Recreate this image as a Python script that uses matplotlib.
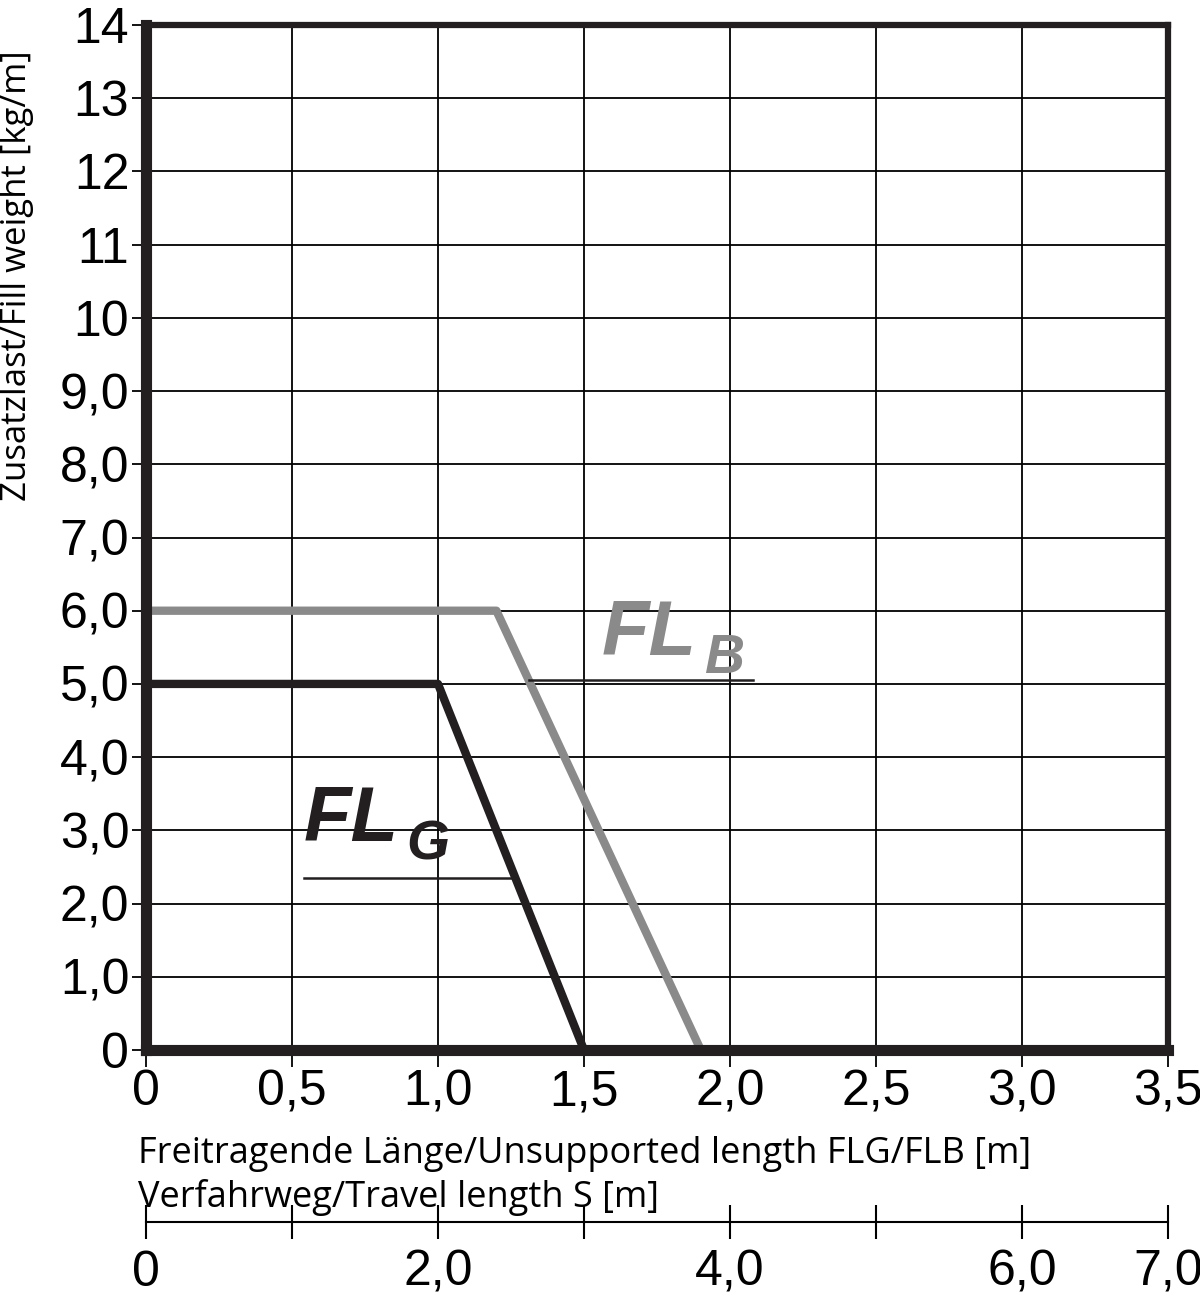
import matplotlib
matplotlib.use("Agg")
import matplotlib.pyplot as plt

flg_x = [0, 1.0, 1.5]
flg_y = [5.0, 5.0, 0]
flb_x = [0, 1.2, 1.9]
flb_y = [6.0, 6.0, 0]
y_ticks = list(range(0, 15))
y_labels = ["0", "1,0", "2,0", "3,0", "4,0", "5,0", "6,0", "7,0", "8,0", "9,0",
            "10", "11", "12", "13", "14"]
x_ticks = [0, 0.5, 1.0, 1.5, 2.0, 2.5, 3.0, 3.5]
x_labels = ["0", "0,5", "1,0", "1,5", "2,0", "2,5", "3,0", "3,5"]
s_ticks = [0, 1, 2, 3, 4, 5, 6, 7]
s_labels = ["0", "", "2,0", "", "4,0", "", "6,0", "7,0"]

tick_font = dict(fontsize=36, family="Liberation Sans")

fig = plt.figure(figsize=(12, 13.14), dpi=100)
ax = fig.add_axes([146/1200, 1 - 1050/1314, 1022/1200, 1025/1314])
ax.set_xlim(0, 3.5)
ax.set_ylim(0, 14)
ax.set_xticks(x_ticks)
ax.set_xticklabels(x_labels, **tick_font)
ax.set_yticks(y_ticks)
ax.set_yticklabels(y_labels, **tick_font)
ax.grid(True, color="black", linewidth=1.3)
ax.tick_params(axis="x", length=12, width=1.3, direction="out", pad=2)
ax.tick_params(axis="y", length=10, width=1.3, direction="out", pad=2)
for s in ["top", "right"]:
    ax.spines[s].set_linewidth(4.5)
    ax.spines[s].set_color("#231f20")
for s in ["left", "bottom"]:
    ax.spines[s].set_linewidth(8)
    ax.spines[s].set_color("#231f20")
    ax.spines[s].set_zorder(5)

ax.plot(flb_x, flb_y, color="#8a8a8a", linewidth=6, solid_capstyle="butt", zorder=3)
ax.plot(flg_x, flg_y, color="#231f20", linewidth=6, solid_capstyle="butt", zorder=4)

lab = dict(fontweight="bold", style="italic", family="Liberation Sans", zorder=6)
ax.text(0.54, 2.85, "FL", fontsize=56, color="#231f20", **lab)
ax.text(0.89, 2.6, "G", fontsize=40, color="#231f20", **lab)
ax.plot([0.54, 1.25], [2.35, 2.35], color="#231f20", linewidth=1.8, zorder=6)
ax.text(1.56, 5.4, "FL", fontsize=56, color="#8a8a8a", **lab)
ax.text(1.91, 5.15, "B", fontsize=40, color="#8a8a8a", **lab)
ax.plot([1.31, 2.08], [5.05, 5.05], color="#231f20", linewidth=1.8, zorder=6)

ax.set_ylabel("Zusatzlast/Fill weight [kg/m]", fontsize=25, family="Open Sans")
ax.yaxis.set_label_coords(-0.11, 0.755)
fig.text(138/1200, 1 - 1163/1314, "Freitragende Länge/Unsupported length FLG/FLB [m]",
         fontsize=26, family="Open Sans")
fig.text(138/1200, 1 - 1207/1314, "Verfahrweg/Travel length S [m]",
         fontsize=26, family="Open Sans")

ax2 = fig.add_axes([146/1200, 1 - 1222/1314, 1022/1200, 0.0001])
ax2.set_xlim(0, 7)
ax2.set_yticks([])
for s in ["top", "right", "left"]:
    ax2.spines[s].set_visible(False)
ax2.spines["bottom"].set_linewidth(1.5)
ax2.set_xticks(s_ticks)
ax2.set_xticklabels(s_labels, **tick_font)
ax2.tick_params(axis="x", direction="inout", length=24, width=1.5, pad=8)

fig.savefig("out.png", dpi=100)
